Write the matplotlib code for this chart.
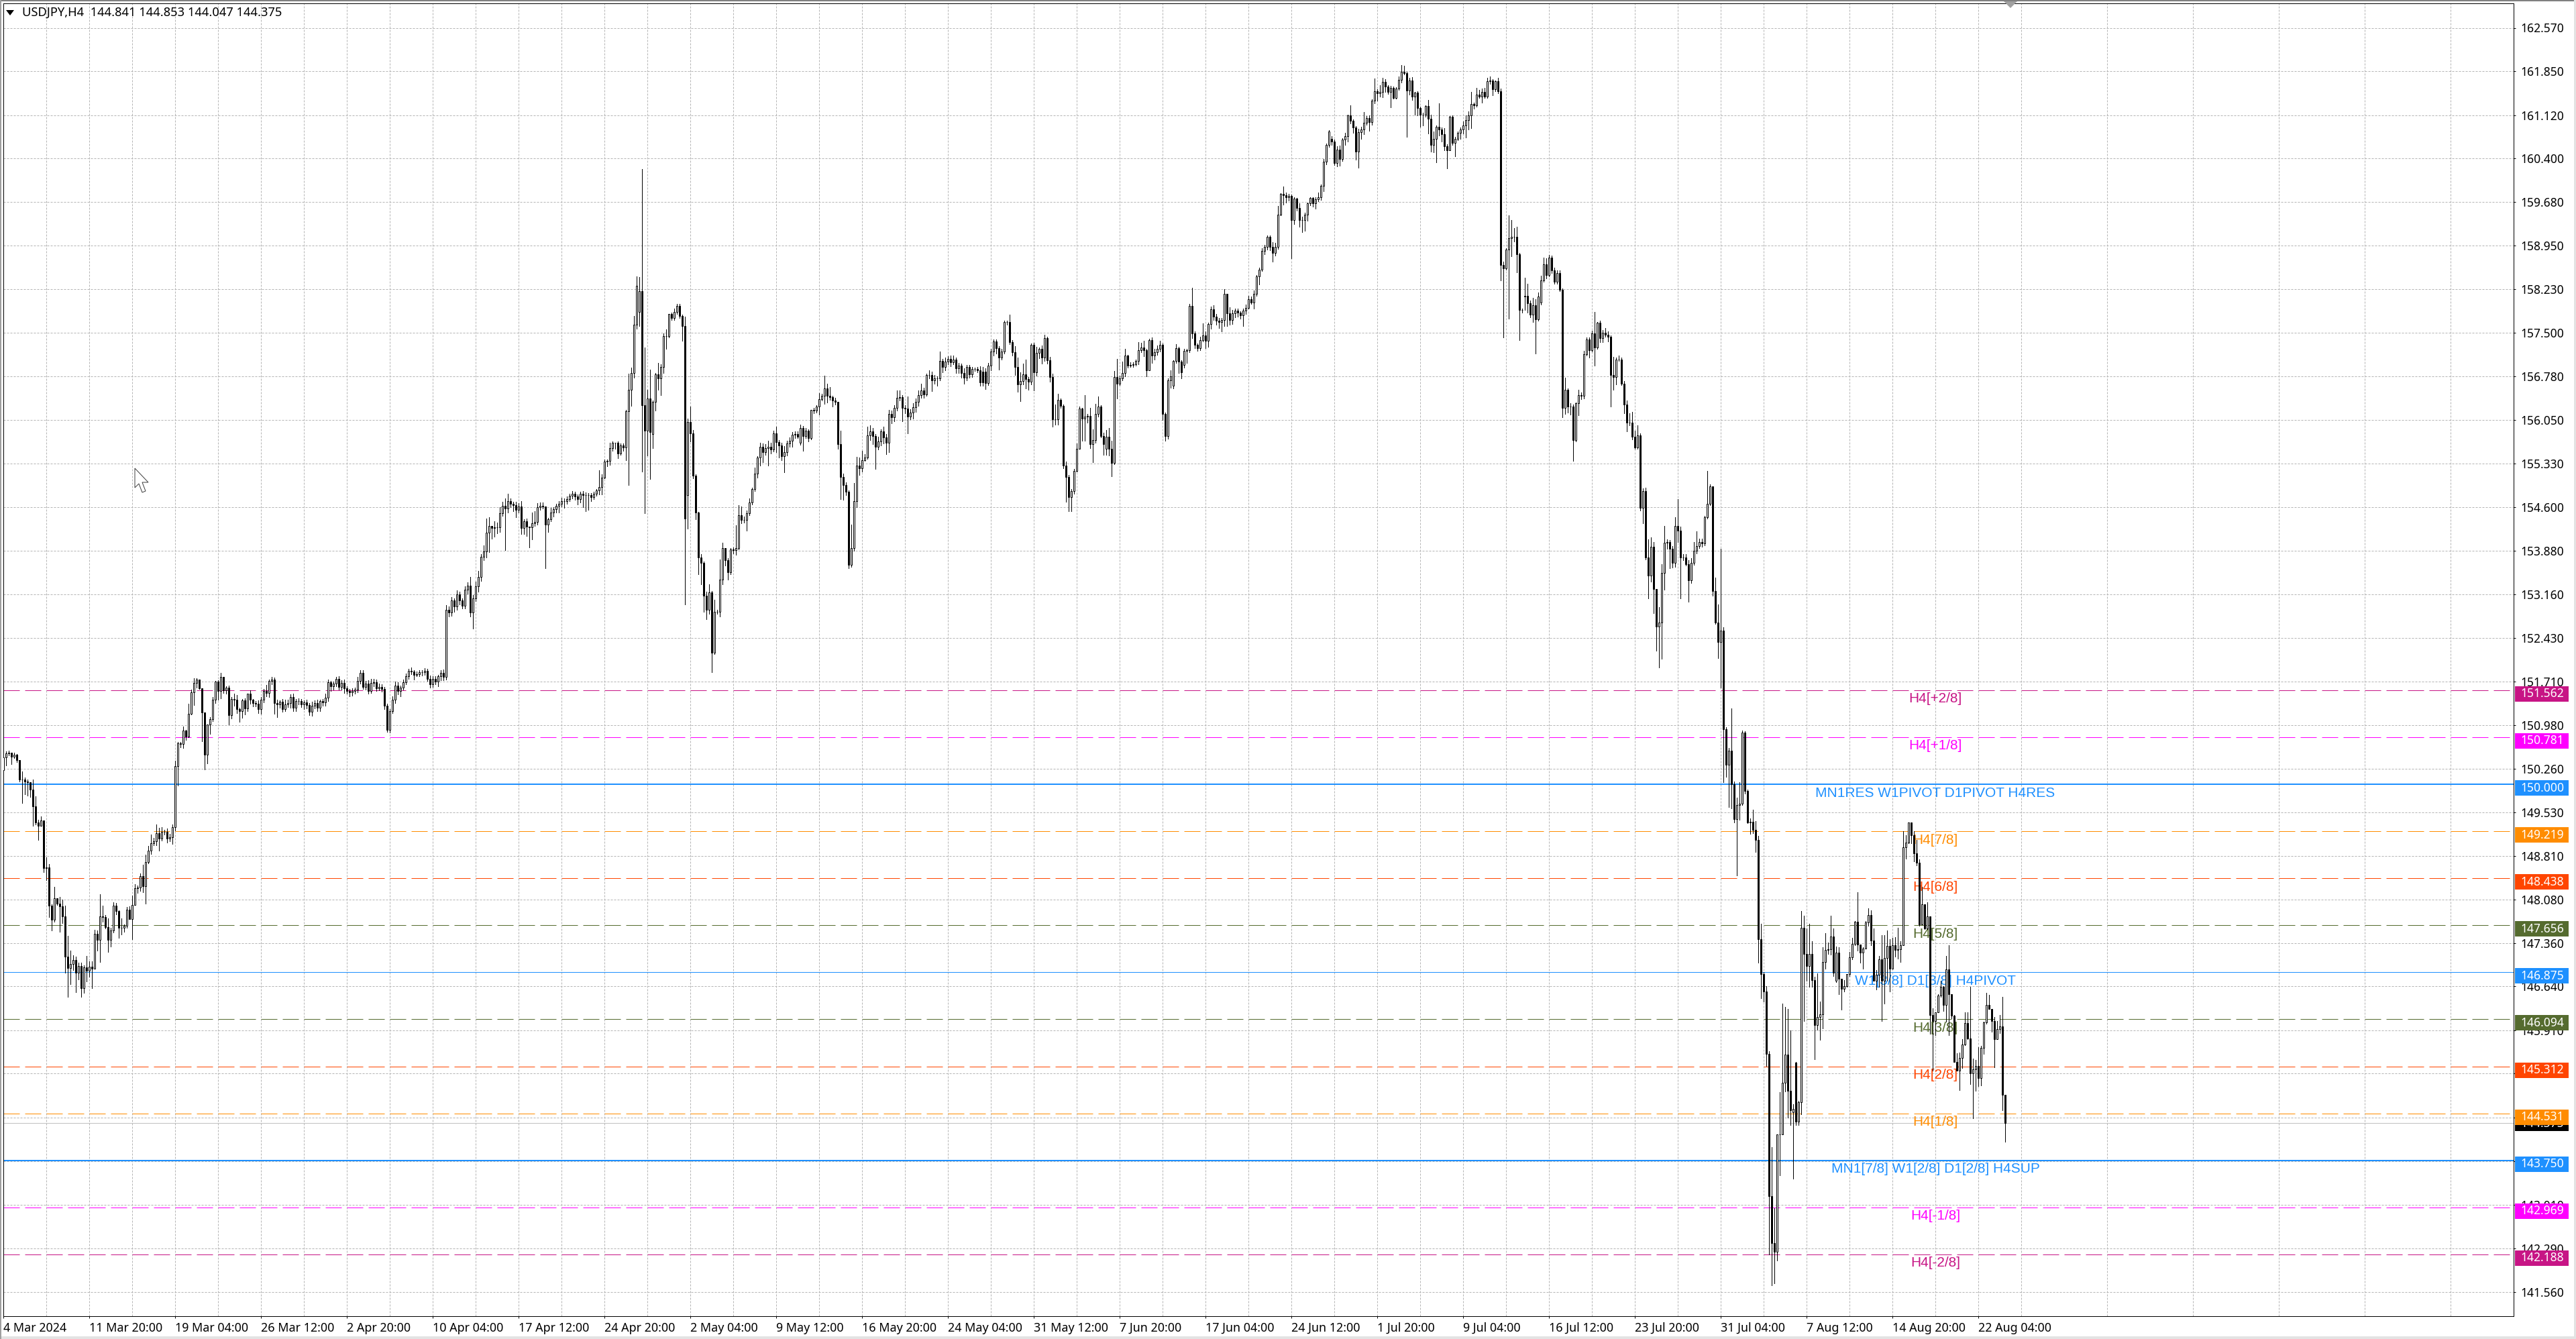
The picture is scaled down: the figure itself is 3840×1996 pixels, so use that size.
import matplotlib
matplotlib.use("Agg")
import matplotlib.pyplot as plt
from matplotlib.patches import Polygon, Rectangle
from matplotlib.transforms import blended_transform_factory

# USDJPY H4 closes, one value per bar
closes = [
    150.45,150.51,150.52,150.46,150.49,150.40,150.08,150.08,150.05,150.03,
    149.91,149.63,149.36,149.31,149.40,148.61,148.62,147.98,147.75,148.10,
    148.02,147.97,147.80,147.13,146.95,147.01,147.08,146.87,146.98,146.61,
    146.96,146.90,146.97,146.93,147.51,147.41,147.80,147.79,147.63,147.41,
    147.57,147.98,147.89,147.62,147.62,147.65,147.92,147.76,147.99,148.27,
    148.28,148.47,148.31,148.71,148.90,149.02,149.05,149.19,149.10,149.21,
    149.21,149.10,149.12,149.29,150.30,150.68,150.67,150.89,150.79,151.17,
    151.53,151.68,151.74,151.60,151.19,150.49,150.99,151.08,151.40,151.71,
    151.55,151.78,151.56,151.61,151.15,151.42,151.41,151.25,151.22,151.39,
    151.26,151.51,151.40,151.35,151.34,151.25,151.40,151.55,151.52,151.72,
    151.74,151.35,151.33,151.37,151.25,151.33,151.35,151.45,151.27,151.38,
    151.38,151.33,151.36,151.32,151.20,151.31,151.35,151.27,151.38,151.36,
    151.44,151.69,151.63,151.67,151.75,151.62,151.68,151.59,151.55,151.53,
    151.55,151.57,151.72,151.85,151.62,151.67,151.55,151.68,151.70,151.59,
    151.62,151.58,151.31,150.90,151.21,151.40,151.64,151.55,151.61,151.70,
    151.79,151.88,151.87,151.82,151.83,151.86,151.86,151.88,151.75,151.66,
    151.75,151.71,151.79,151.85,151.78,152.90,152.85,153.05,152.95,153.15,
    153.05,152.97,153.23,153.30,152.85,153.09,153.29,153.45,153.78,153.87,
    154.18,154.29,154.26,154.27,154.27,154.50,154.63,154.58,154.71,154.66,
    154.64,154.56,154.62,154.26,154.37,154.28,154.27,154.34,154.36,154.61,
    154.63,154.62,154.31,154.40,154.52,154.57,154.63,154.66,154.71,154.71,
    154.74,154.79,154.83,154.78,154.74,154.83,154.80,154.81,154.81,154.77,
    154.83,154.88,154.94,155.10,155.36,155.37,155.59,155.67,155.67,155.50,
    155.63,155.60,156.20,156.56,156.83,157.64,158.28,158.19,156.30,155.87,
    156.41,155.85,156.36,156.81,156.74,156.93,157.45,157.45,157.81,157.75,
    157.85,157.95,157.78,157.61,154.41,156.02,155.83,155.13,154.51,153.77,
    153.68,153.13,152.90,153.19,152.19,152.87,152.86,153.40,153.92,153.72,
    153.52,153.90,153.89,153.93,154.47,154.39,154.39,154.50,154.68,154.90,
    155.16,155.43,155.61,155.52,155.59,155.61,155.56,155.83,155.69,155.63,
    155.45,155.52,155.66,155.71,155.81,155.82,155.78,155.92,155.79,155.87,
    155.75,156.22,156.21,156.28,156.40,156.45,156.58,156.46,156.43,156.38,
    156.36,155.65,155.11,154.97,154.86,153.65,153.93,154.71,155.30,155.25,
    155.39,155.43,155.80,155.86,155.79,155.61,155.70,155.86,155.76,155.67,
    156.15,156.10,156.26,156.42,156.43,156.25,156.24,156.11,156.18,156.27,
    156.35,156.47,156.54,156.48,156.80,156.80,156.71,156.75,156.75,157.04,
    156.94,157.02,157.07,157.01,157.06,156.91,156.96,156.83,156.76,156.94,
    156.81,156.90,156.90,156.88,156.68,156.68,156.67,156.96,157.19,157.36,
    157.25,157.09,157.19,157.68,157.68,157.35,157.18,156.94,156.64,156.70,
    156.81,156.73,156.69,157.30,156.85,157.17,157.23,157.09,157.41,157.05,
    156.77,156.06,156.06,156.39,156.29,155.30,155.11,154.77,154.87,155.21,
    155.58,156.24,156.08,156.11,156.12,155.65,155.72,156.15,156.28,155.79,
    155.65,155.77,155.57,155.34,156.77,156.66,156.75,156.83,157.12,156.96,
    156.97,156.98,157.03,157.21,157.26,157.21,156.88,157.38,157.12,157.18,
    157.24,157.30,156.15,155.79,156.71,156.78,157.04,157.25,157.02,156.84,
    157.20,157.21,157.95,157.49,157.30,157.25,157.38,157.46,157.37,157.65,
    157.89,157.77,157.70,157.68,157.71,158.15,157.83,157.71,157.83,157.87,
    157.84,157.79,157.87,157.92,158.06,158.01,158.15,158.44,158.55,158.86,
    158.93,159.10,158.93,158.83,158.93,159.47,159.81,159.79,159.75,159.78,
    159.38,159.73,159.58,159.38,159.38,159.47,159.66,159.74,159.66,159.72,
    159.75,159.95,160.35,160.63,160.85,160.68,160.32,160.55,160.39,160.71,
    160.77,161.12,161.03,160.91,160.51,160.84,160.88,160.99,161.07,161.00,
    161.36,161.52,161.48,161.50,161.67,161.59,161.51,161.57,161.41,161.56,
    161.71,161.84,161.82,161.53,161.70,161.43,161.49,161.24,161.13,161.13,
    161.27,161.06,160.62,160.73,160.93,160.88,160.80,160.60,160.54,161.09,
    160.66,160.73,160.82,160.88,160.95,161.04,161.12,161.31,161.28,161.46,
    161.43,161.51,161.43,161.68,161.69,161.55,161.68,161.52,158.63,158.57,
    158.88,159.08,159.10,159.10,158.81,157.88,157.88,158.12,157.99,157.80,
    157.96,157.73,158.11,158.37,158.64,158.46,158.75,158.54,158.35,158.49,
    158.22,156.25,156.56,156.28,156.28,155.72,156.33,156.47,156.45,157.15,
    157.39,157.21,157.49,157.26,157.67,157.41,157.50,157.47,157.44,156.80,
    156.77,157.06,157.06,156.66,156.31,156.01,156.01,155.77,155.60,155.80,
    154.59,154.87,153.77,153.47,153.95,153.24,152.62,152.69,153.51,154.01,
    154.03,153.91,153.68,154.29,154.21,153.77,153.77,153.66,153.39,153.68,
    153.88,153.96,154.03,154.00,154.44,154.66,154.95,153.21,152.69,152.36,
    152.55,150.92,150.32,150.56,150.00,149.42,149.66,149.68,150.86,149.89,
    149.37,149.38,149.24,149.07,147.43,146.84,146.56,145.52,143.15,142.37,
    142.23,144.18,144.18,145.04,145.51,144.91,144.58,144.60,144.39,144.72,
    147.61,147.18,146.98,147.18,146.74,146.00,146.13,146.18,147.05,147.25,
    147.26,147.47,146.87,147.20,146.77,146.60,146.65,146.84,147.12,147.35,
    147.71,147.34,147.20,147.27,147.70,147.83,147.40,146.73,146.83,147.09,
    146.73,147.11,147.31,146.94,147.32,147.25,147.26,147.33,148.95,149.03,
    149.36,149.15,148.85,148.70,147.67,148.00,147.60,147.80,146.17,146.06,
    146.21,146.49,146.63,146.33,146.92,146.51,146.15,145.39,145.24,145.45,
    145.68,146.03,145.77,145.19,145.26,145.32,145.12,145.62,146.04,146.33,
    146.27,146.06,145.76,145.93,145.98,144.84,144.375,
]

first_open = 150.24
# bars whose open does not sit on the previous close
open_gaps = {237: 157.85, 238: 158.19, 242: 155.82, 255: 154.81, 297: 155.67, 365: 156.86,
             366: 156.86, 411: 155.57, 436: 156.62, 440: 156.97, 495: 160.73, 567: 158.10,
             573: 158.00, 667: 144.55, 668: 145.37, 683: 146.73}

# wicks in cents above / below the body
upper_wicks = [
    11,4,4,0,3,1,0,13,3,3, 0,17,17,5,6,0,17,5,2,19, 1,11,11,18,35,23,8,6,5,6, 3,19,9,9,7,6,37,18,4,14,
    5,6,5,2,15,2,4,5,16,7, 4,5,19,12,7,14,6,14,9,8, 3,5,5,4,9,2,2,7,1,17, 4,8,2,0,0,0,0,3,5,1,
    2,7,0,2,3,3,8,7,2,3, 4,0,5,2,3,5,5,3,10,2, 4,3,5,2,5,8,5,4,6,4, 5,4,3,4,3,6,4,5,3,4,
    6,5,3,4,3,4,5,6,4,3, 5,4,6,4,5,5,6,7,5,4, 5,4,4,3,4,6,7,5,3,4, 5,4,6,3,4,3,3,5,4,6,
    4,5,3,4,6,8,5,6,4,7, 5,4,6,6,14,5,8,9,4,10, 23,15,0,10,8,10,6,12,12,4, 3,5,5,9,3,5,0,18,18,6,
    5,5,0,3,7,3,3,4,5,4, 4,4,4,3,4,3,4,4,3,3, 3,3,28,5,4,3,9,3,0,3, 3,3,2,26,9,14,16,24,203,96,
    14,48,2,2,19,5,4,11,1,3, 5,3,3,2,16,6,26,6,2,2, 5,2,7,13,2,20,3,34,9,0, 4,3,4,37,17,15,6,5,7,3,
    10,2,7,5,6,10,6,5,11,3, 5,10,5,5,4,4,4,6,3,5, 3,0,3,2,10,4,21,8,14,3, 4,0,23,5,5,2,39,30,14,13,
    15,6,14,11,6,3,8,4,8,6, 7,6,4,12,11,4,5,20,5,6, 6,7,12,5,2,8,6,5,3,15, 3,7,4,5,6,3,4,3,8,3,
    3,4,2,3,7,8,5,4,5,3, 3,3,4,2,2,12,3,10,15,15, 18,25,4,2,4,10,3,6,6,3, 5,5,25,10,2,2,6,3,3,3,
    8,4,2,36,3,13,18,17,16,2, 5,12,15,14,10,30,4,19,11,2, 4,3,3,14,8,11,3,2,4,5, 5,7,2,3,4,10,1,6,2,3,
    3,2,3,30,3,3,6,20,7,2, 5,7,4,5,4,8,0,10,5,3, 4,2,3,5,6,4,5,2,4,5, 3,2,2,8,7,14,1,12,4,3,
    2,2,1,8,5,3,1,2,2,3, 8,2,4,2,2,4,3,5,6,3, 5,1,16,2,3,5,5,18,3,5, 2,21,3,12,7,5,3,4,2,2,
    5,11,10,2,4,5,2,3,2,3, 1,10,7,12,2,39,3,10,4,1, 2,3,3,3,6,7,6,20,2,11, 8,5,6,6,7,3,2,6,4,6,
    3,37,28,14,16,2,2,30,20,5, 12,10,6,8,11,10,5,3,4,5, 5,2,20,2,5,3,1,8,4,5, 3,3,5,36,1,3,5,8,5,2,
    30,3,6,3,4,7,15,18,10,17, 3,5,6,30,15,8,0,25,15,28, 4,3,5,15,45,7,5,5,6,8, 14,24,5,5,2,55,3,0,22,30,
    136,6,3,4,70,5,12,35,3,2, 2,5,20,15,7,25,4,8,4,82, 58,0,70,132,79,76,100,8,1,2, 28,20,42,50,21,6,73,21,24,28,
    11,35,13,10,9,0,10,1,9,10, 2,50,0,2,3,11,8,20,8,6, 40,38,26,12,13,14,35,6,27,12, 0,1,7,23,5,29,1,24,0,11,
    0,2,10,2,23,41,0,2,14,9, 8,18,18,86,18,10,31,3,1,20, 17,0,7,13,19,49,0,
]
lower_wicks = [
    0,14,3,12,3,3,3,39,22,22, 12,32,3,24,0,7,20,19,18,3, 3,42,11,26,48,27,10,33,11,14, 8,18,10,32,0,18,36,7,3,20,
    11,3,5,17,12,7,4,0,33,0, 8,5,11,29,3,6,3,6,20,4, 5,7,5,11,6,32,6,7,5,1, 1,21,7,2,48,24,14,15,3,5,
    14,12,4,6,16,6,10,7,18,12, 10,5,6,6,5,7,8,4,6,7, 6,18,22,6,5,4,5,8,6,5, 5,5,8,6,5,6,5,5,5,6,
    5,6,8,6,4,5,5,7,5,7, 6,5,4,5,4,5,4,3,5,4, 3,4,6,3,4,3,5,6,9,4, 4,4,4,8,3,3,5,4,3,5,
    4,5,8,6,5,4,6,5,8,5, 6,5,5,6,6,26,5,9,7,6, 10,32,18,15,10,8,4,69,7,6, 10,12,5,10,10,15,33,20,5,5,
    5,4,72,12,3,7,6,11,4,12, 5,3,4,5,9,6,19,26,25,7, 3,4,6,12,2,8,6,5,9,8, 3,6,21,123,27,7,7,24,111,137,
    41,78,23,15,19,27,10,22,3,3, 4,3,3,24,142,56,13,5,11,28, 36,27,16,7,33,3,3,7,8,9, 12,3,5,8,3,5,4,18,3,3,
    3,7,13,17,5,29,6,3,17,20, 7,27,6,5,10,6,3,3,25,4, 5,2,5,3,14,2,13,12,4,10, 5,8,37,24,5,6,4,5,10,11,
    5,2,2,8,14,37,5,7,10,18, 15,10,7,5,4,22,8,28,5,10, 8,6,5,6,3,5,18,5,13,4, 10,6,4,6,3,8,8,7,10,5,
    5,4,3,4,6,6,10,4,8,7, 9,20,3,3,4,4,6,14,12,27, 6,15,13,5,31,6,9,10,5,6, 8,12,8,8,4,5,42,23,23,4,
    2,0,37,37,10,6,30,4,4,3, 18,10,11,22,2,25,3,4,5,4, 2,3,2,5,3,10,10,0,12,6, 5,5,10,8,5,12,4,4,19,10,
    5,20,3,8,5,5,4,2,12,10, 8,5,6,10,15,9,22,7,6,7, 7,5,17,6,2,3,10,3,13,2, 5,4,6,15,5,3,2,16,8,5,
    64,7,5,12,21,18,10,4,6,10, 3,4,10,5,4,5,3,5,11,3, 8,9,5,8,13,26,12,8,3,14, 4,4,12,5,8,8,4,26,2,2,
    2,5,3,77,7,6,30,12,20,18, 4,25,11,12,40,10,12,7,30,0, 4,22,3,10,7,20,16,22,5,2, 3,10,3,2,4,10,3,4,26,115,
    2,114,31,8,30,50,4,22,15,4, 12,57,3,3,2,5,2,4,3,3, 3,15,10,10,14,35,2,20,5,4, 3,12,2,30,2,6,6,3,8,52,
    22,12,3,3,15,15,4,4,3,2, 4,25,3,38,10,40,40,68,60,28, 10,32,8,7,18,68,5,2,36,4, 3,4,3,5,3,2,2,8,3,26,
    75,89,20,70,40,5,94,25,2,5, 2,20,5,20,40,40,17,20,96,70, 52,14,68,0,15,45,24,110,5,5, 20,112,25,35,11,57,8,38,24,12,
    7,9,6,2,26,34,4,2,3,3, 2,11,17,27,0,5,7,0,14,20, 66,38,38,38,1,12,15,21,0,19, 1,13,13,5,2,0,1,1,32,82,
    23,0,2,10,28,68,4,1,0,32, 17,2,1,17,74,36,14,13,10,2, 0,17,46,0,7,26,32,
]

price_ticks = [162.57, 161.85, 161.12, 160.40, 159.68, 158.95, 158.23, 157.50, 156.78, 156.05,
               155.33, 154.60, 153.88, 153.16, 152.43, 151.71, 150.98, 150.26, 149.53, 148.81,
               148.08, 147.36, 146.64, 145.91, 145.19, 144.46, 143.74, 143.01, 142.29, 141.56]
time_labels = ["4 Mar 2024", "11 Mar 20:00", "19 Mar 04:00", "26 Mar 12:00", "2 Apr 20:00", "10 Apr 04:00",
               "17 Apr 12:00", "24 Apr 20:00", "2 May 04:00", "9 May 12:00", "16 May 20:00", "24 May 04:00",
               "31 May 12:00", "7 Jun 20:00", "17 Jun 04:00", "24 Jun 12:00", "1 Jul 20:00", "9 Jul 04:00",
               "16 Jul 12:00", "23 Jul 20:00", "31 Jul 04:00", "7 Aug 12:00", "14 Aug 20:00", "22 Aug 04:00"]
bars_per_label = 32

level_prices = [151.562, 150.781, 150.000, 149.219, 148.438, 147.656, 146.875,
                146.094, 145.312, 144.531, 143.750, 142.969, 142.188]
level_names = ["H4[+2/8]", "H4[+1/8]", "MN1RES W1PIVOT D1PIVOT H4RES", "H4[7/8]", "H4[6/8]", "H4[5/8]",
               "W1[3/8] D1[3/8] H4PIVOT", "H4[3/8]", "H4[2/8]", "H4[1/8]",
               "MN1[7/8] W1[2/8] D1[2/8] H4SUP", "H4[-1/8]", "H4[-2/8]"]
level_colors = ["#C71585", "#FF00FF", "#1E90FF", "#FF8C00", "#FF4500", "#556B2F", "#1E90FF",
                "#556B2F", "#FF4500", "#FF8C00", "#1E90FF", "#FF00FF", "#C71585"]
level_widths = [1, 1, 2, 1, 1, 1, 1, 1, 1, 1, 2, 1, 1]
level_solid = [False, False, True, False, False, False, True, False, False, False, True, False, False]
current_price = 144.375

W, H = 3840, 1996
AX_LEFT, AX_TOP, AX_RIGHT, AX_BOTTOM = 4.5, 4.5, 3747, 1962
PX_PER_PRICE = 89.7
PX = 0.72  # one pixel in points at dpi 100
GRID = "#B4B4B4"

plt.rcParams["lines.scale_dashes"] = False
plt.rcParams["font.family"] = ["Noto Sans", "DejaVu Sans"]

fig = plt.figure(figsize=(W / 100, H / 100), dpi=100, facecolor="white")
ax = fig.add_axes([AX_LEFT / W, 1 - AX_BOTTOM / H, (AX_RIGHT - AX_LEFT) / W, (AX_BOTTOM - AX_TOP) / H])
ax.set_xlim(-0.125, 935.5)
ax.set_ylim(162.57 - (AX_BOTTOM - 41.5) / PX_PER_PRICE, 162.57 + (41.5 - AX_TOP) / PX_PER_PRICE)

# axes furniture
ax.yaxis.tick_right()
ax.set_yticks(price_ticks)
ax.set_yticklabels(["%.3f" % p for p in price_ticks])
ax.set_xticks(range(0, bars_per_label * len(time_labels), bars_per_label))
ax.set_xticklabels(time_labels, ha="left")
ax.set_xticks(range(16, 936, 32), minor=True)
ax.tick_params(axis="y", length=3 * PX, width=PX, pad=7 * PX, labelsize=12.6, zorder=1)
ax.tick_params(axis="x", length=3 * PX, width=PX, pad=6 * PX, labelsize=12.9)
ax.tick_params(axis="x", which="minor", length=0)
ax.grid(True, which="both", color=GRID, linewidth=PX, linestyle=(0, (3 * PX, 2 * PX)), zorder=1)
ax.set_axisbelow(True)
for spine in ax.spines.values():
    spine.set_linewidth(PX)

# support and resistance levels
for price, name, color, width, solid in zip(level_prices, level_names, level_colors, level_widths, level_solid):
    style = "-" if solid else (0, (24 * PX, 8 * PX))
    ax.axhline(price, color=color, linewidth=width * PX, linestyle=style, zorder=2)
    ax.annotate(name, xy=(720, price), xytext=(0, -13 * PX), textcoords="offset points", ha="center", va="center",
                color=color, fontsize=15, family=["Liberation Sans", "DejaVu Sans"], zorder=3)
ax.axhline(current_price, color="#C0C0C0", linewidth=PX, zorder=2)

# candles
opens = [first_open] + closes[:-1]
for bar, price in open_gaps.items():
    opens[bar] = price
xs = list(range(len(closes)))
tops = [max(o, c) for o, c in zip(opens, closes)]
bottoms = [min(o, c) for o, c in zip(opens, closes)]
highs = [t + u / 100 for t, u in zip(tops, upper_wicks)]
lows = [b - d / 100 for b, d in zip(bottoms, lower_wicks)]
fills = ["white" if c >= o else "black" for o, c in zip(opens, closes)]
ax.vlines(xs, lows, highs, colors="black", linewidth=PX, antialiased=False, zorder=4)
ax.bar(xs, [t - b for t, b in zip(tops, bottoms)], bottom=bottoms, width=0.5, color=fills,
       edgecolor="black", linewidth=PX, zorder=5)

# price tags on the right scale
tag_trans = blended_transform_factory(ax.transAxes, ax.transData)
tag_w = 80 / (AX_RIGHT - AX_LEFT)
tag_h = 23 / PX_PER_PRICE
tag_x = 1 + 2 / (AX_RIGHT - AX_LEFT)
text_x = 1 + 10 / (AX_RIGHT - AX_LEFT)


def draw_tag(price, color, shift, order):
    mid = price - shift / PX_PER_PRICE
    ax.add_patch(Rectangle((tag_x, mid - tag_h / 2), tag_w, tag_h, transform=tag_trans, facecolor=color,
                           edgecolor="none", clip_on=False, zorder=order))
    ax.text(text_x, mid, "%.3f" % price, transform=tag_trans, color="white", fontsize=12.6, ha="left",
            va="center", clip_on=False, zorder=order + 0.5)


draw_tag(current_price, "black", 1, 6)
for n, (price, color) in enumerate(zip(level_prices, level_colors)):
    draw_tag(price, color, 5.5, 7 + n)

# header text, window edges, shift marker and mouse pointer
fig.text(33 / W, 1 - 19 / H, "USDJPY,H4  144.841 144.853 144.047 144.375", fontsize=13.2, va="center", ha="left")


def pixel_poly(points, **kwargs):
    fig.add_artist(Polygon([(x / W, 1 - y / H) for x, y in points], transform=fig.transFigure, **kwargs))


pixel_poly([(9, 15), (21, 15), (15, 23)], facecolor="black", edgecolor="none")
pixel_poly([(2985, 0), (3009, 0), (2997, 12)], facecolor="#A0A0A0", edgecolor="none")
pixel_poly([(201, 698), (201, 727), (207, 721), (212, 734), (217, 732), (212, 719), (221, 719)],
           facecolor="white", edgecolor="#404040", linewidth=PX)
fig.add_artist(Rectangle((0, 1 - 2 / H), 1, 2 / H, transform=fig.transFigure, facecolor="#808080", edgecolor="none"))
fig.add_artist(Rectangle((0, 0), 1, 4 / H, transform=fig.transFigure, facecolor="#E3E3E3", edgecolor="none"))
fig.add_artist(Rectangle((1 - 3 / W, 0), 3 / W, 1, transform=fig.transFigure, facecolor="#E3E3E3", edgecolor="none"))
fig.add_artist(Rectangle((0, 0), 2 / W, 1, transform=fig.transFigure, facecolor="#A0A0A0", edgecolor="none"))

fig.savefig("out.png", dpi=100)
